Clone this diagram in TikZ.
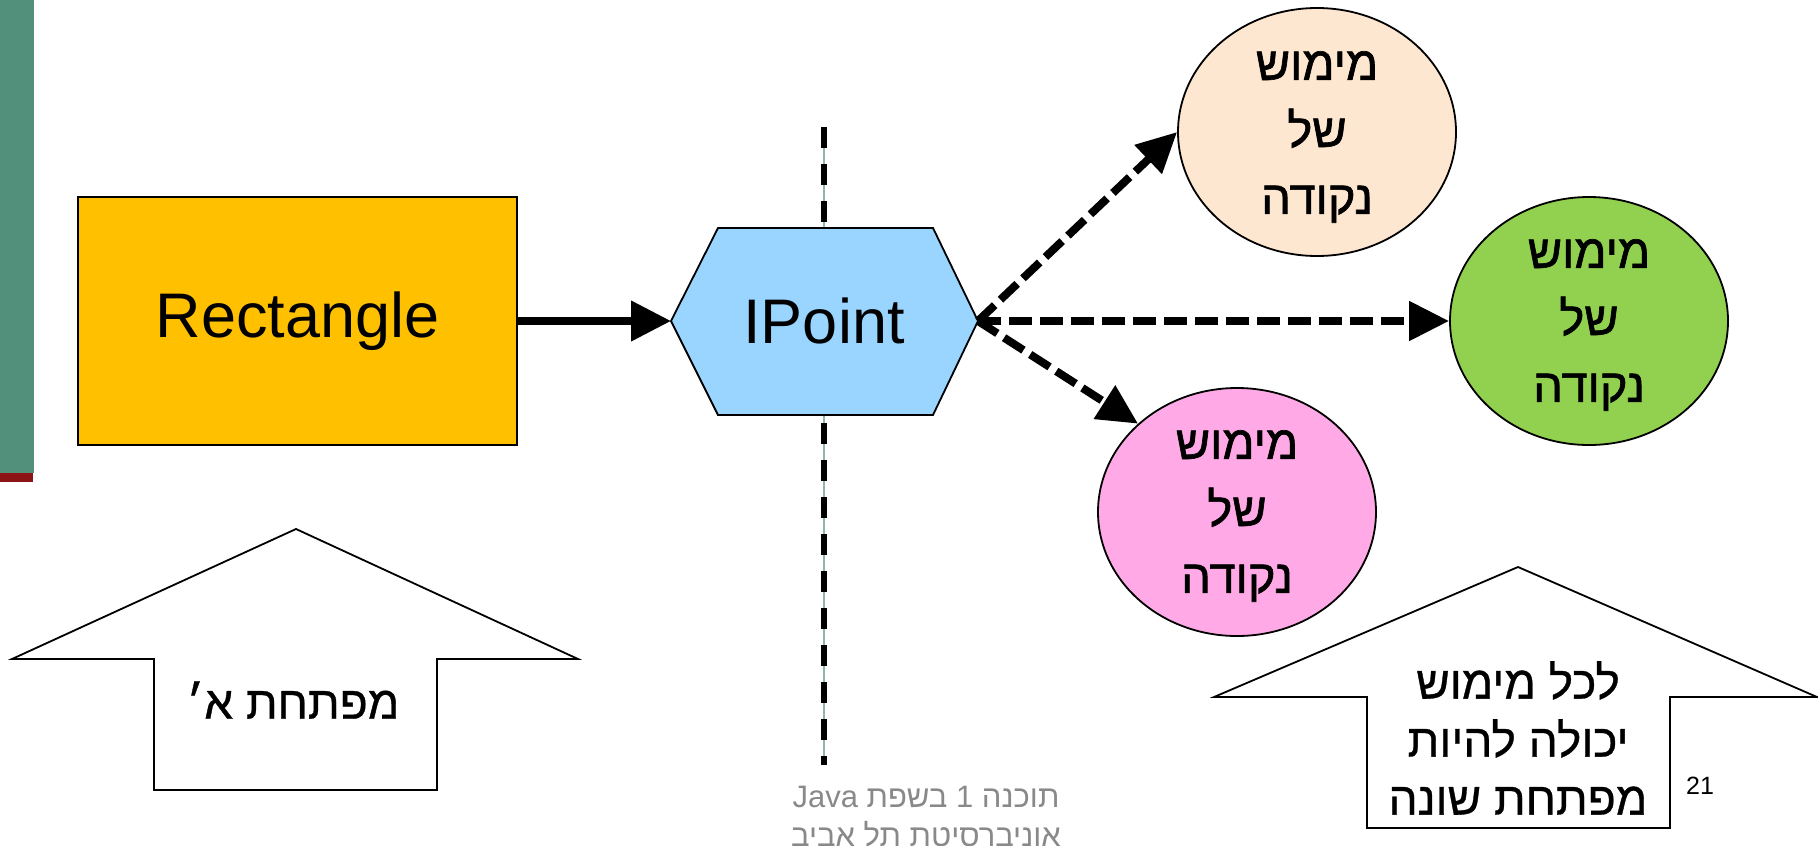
\documentclass[tikz,border=0pt]{standalone}
\usepackage{fontspec}
\setmainfont{Liberation Sans}
\newfontfamily\heb[Script=Hebrew]{Liberation Sans}
\newfontfamily\hebmed[Script=Hebrew,FakeBold=1.4]{Liberation Sans}
\newfontfamily\hebsemi[Script=Hebrew,FakeBold=0.7]{Liberation Sans}
\TeXXeTstate=1
\usetikzlibrary{arrows.meta,shapes.geometric}
\definecolor{leftgreen}{RGB}{82,144,124}
\definecolor{leftred}{RGB}{140,20,20}
\definecolor{rectfill}{RGB}{255,192,0}
\definecolor{hexfill}{RGB}{153,213,255}
\definecolor{peach}{RGB}{253,231,208}
\definecolor{implgreen}{RGB}{146,208,80}
\definecolor{implpink}{RGB}{255,170,230}
\definecolor{footgray}{RGB}{137,137,137}
\definecolor{sepline}{RGB}{143,182,168}
\tikzset{
  outline/.style={draw=black, line width=1.8pt, line join=miter},
  ell/.style={ellipse, outline, minimum width=278pt, minimum height=248pt, inner sep=0pt},
  elltext/.style={align=center, font=\hebmed\fontsize{47}{67}\selectfont},
  bigtext/.style={font=\fontsize{63}{75}\selectfont},
  hebtext/.style={font=\hebsemi\fontsize{46}{58}\selectfont, align=center},
  solidarrow/.style={line width=7.5pt, -{Triangle[length=40pt,width=39pt]}},
  dasharrow/.style={line width=8pt, dash pattern=on 23pt off 8pt, -{Triangle[length=40pt,width=38pt]}},
  footer/.style={font=\heb\fontsize{31}{38}\selectfont, text=footgray}
}
\begin{document}
\begin{tikzpicture}[x=1pt,y=-1pt]
\useasboundingbox (0,0) rectangle (1818,846);
% left bar
\fill[leftgreen] (0,0) rectangle (34,473);
\fill[leftred] (0,473) rectangle (33,482);
% vertical separator
\draw[sepline, line width=1.2pt] (824,127) -- (824,765);
\draw[black, line width=6pt, dash pattern=on 21pt off 16pt] (824,127) -- (824,765);
% rectangle
\node[outline, fill=rectfill, minimum width=439pt, minimum height=248pt, inner sep=0pt, bigtext] (rect) at (297.5,321) {Rectangle};
% hexagon IPoint
\draw[outline, fill=hexfill] (671,321) -- (718,228) -- (933,228) -- (978,321) -- (933,415) -- (718,415) -- cycle;
\node[bigtext] (ip) at (824,321) {IPoint};
\coordinate (ipleft) at (671,321);
\coordinate (iptip) at (978,321);
% ellipses
\node[ell, fill=peach] (e1) at (1317,132) {};
\node[elltext, yshift=-5pt] (t1) at (e1.center) {\beginR מימוש\endR\\\beginR של\endR\\\beginR נקודה\endR};
\node[ell, fill=implgreen] (e2) at (1589,321) {};
\node[elltext, yshift=-4pt] (t2) at (e2.center) {\beginR מימוש\endR\\\beginR של\endR\\\beginR נקודה\endR};
\node[ell, fill=implpink] (e3) at (1237,512) {};
\node[elltext, yshift=-4pt] (t3) at (e3.center) {\beginR מימוש\endR\\\beginR של\endR\\\beginR נקודה\endR};
% connectors
\draw[solidarrow] (rect.east) -- (ipleft);
\draw[dasharrow] (iptip) -- (e1.west);
\draw[dasharrow] (iptip) -- (e2.west);
\draw[dasharrow] (iptip) -- (e3.north west);
% block arrows
\draw[outline, fill=white] (296,529) -- (578,659) -- (437,659) -- (437,790) -- (154,790) -- (154,659) -- (12,659) -- cycle;
\node[hebtext] (k1) at (293,700) {\beginR מפתחת א׳\endR};
\draw[outline, fill=white] (1518,567) -- (1817,697) -- (1670,697) -- (1670,828) -- (1367,828) -- (1367,697) -- (1214,697) -- cycle;
\node[hebtext] (k2) at (1518,738) {\beginR לכל מימוש\endR\\\beginR יכולה להיות\endR\\\beginR מפתחת שונה\endR};
% page number
\node[font=\fontsize{25}{30}\selectfont] (pg) at (1700,786) {21};
% footer
\node[footer] (f1) at (926,797) {\beginR תוכנה 1 בשפת \beginL Java\endL\endR};
\node[footer] (f2) at (926,834) {\beginR אוניברסיטת תל אביב\endR};
\end{tikzpicture}
\end{document}
